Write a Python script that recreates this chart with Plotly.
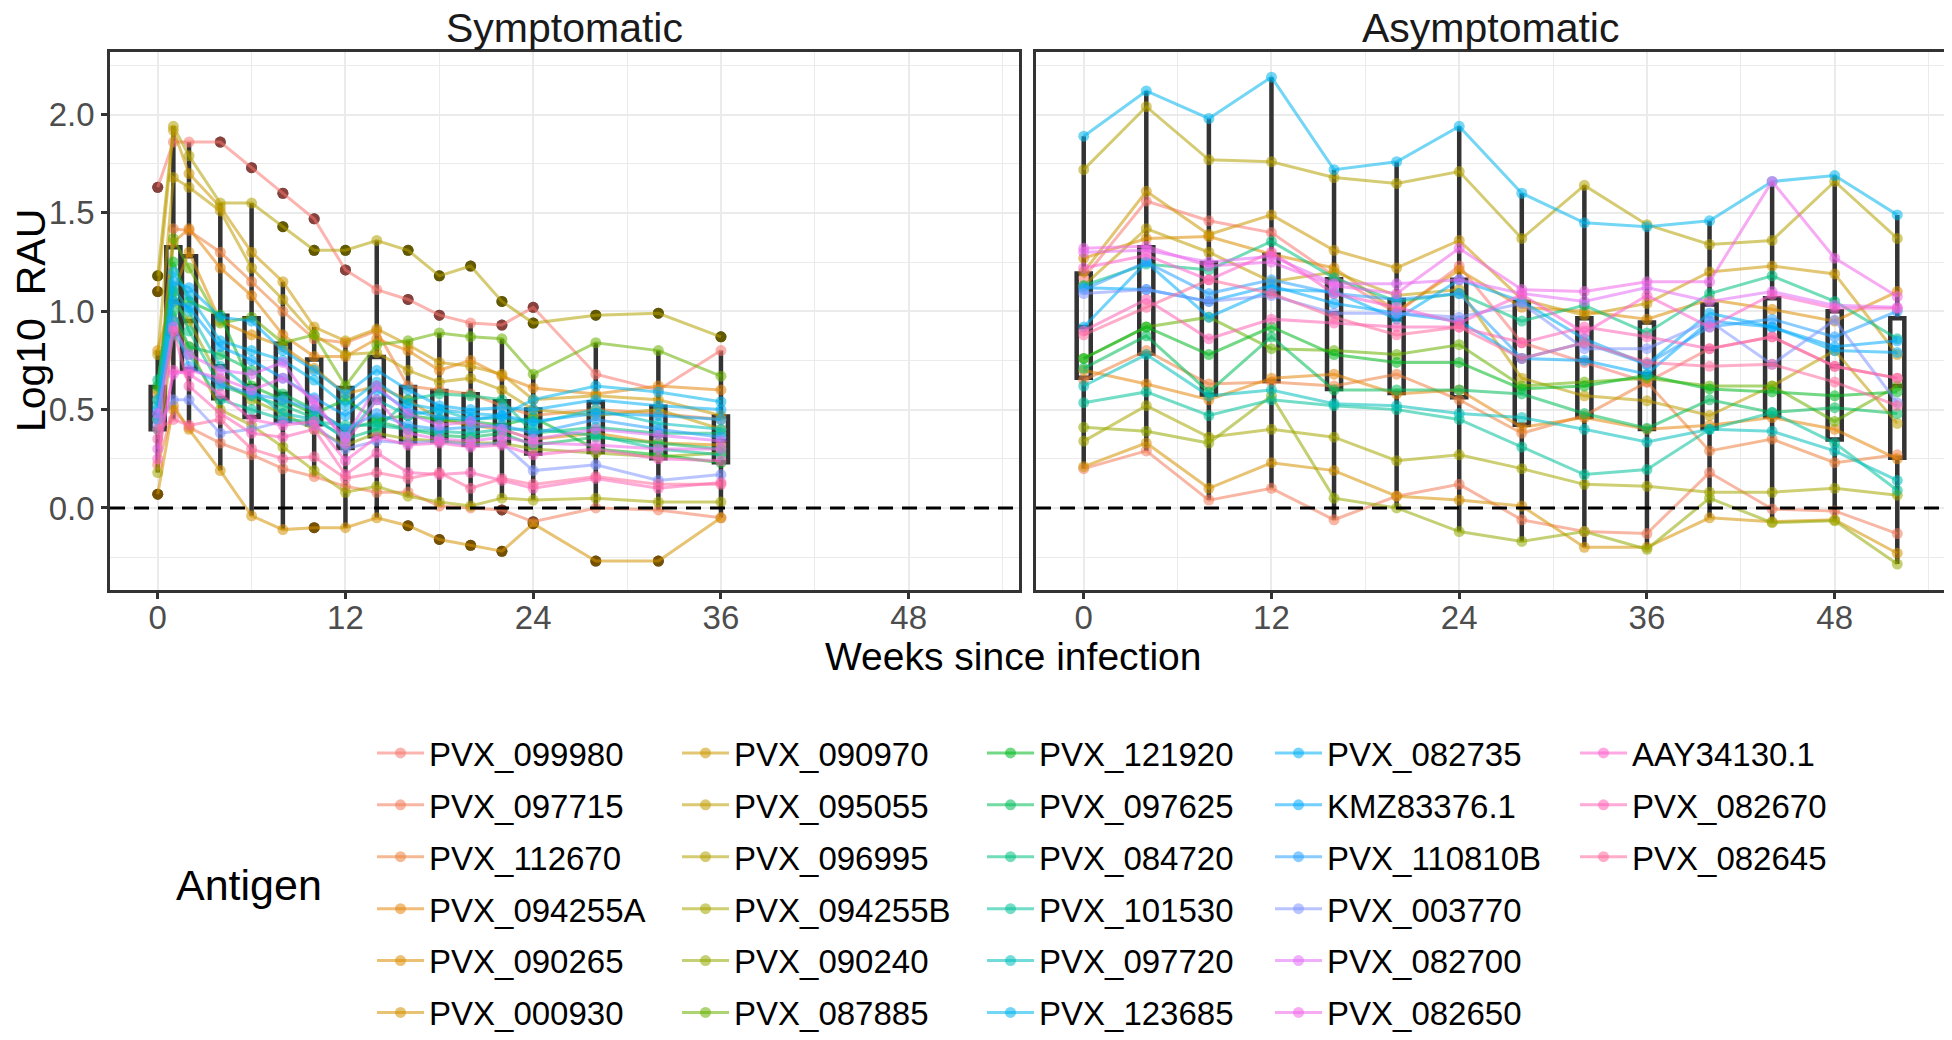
import numpy as np
import pandas as pd
import plotly.graph_objects as go
from plotly.subplots import make_subplots

#############################################################################################
# data (log10 RAU per antigen and visit)

antigens = ["PVX_099980", "PVX_097715", "PVX_112670", "PVX_094255A", "PVX_090265", "PVX_000930",
            "PVX_090970", "PVX_095055", "PVX_096995", "PVX_094255B", "PVX_090240", "PVX_087885",
            "PVX_121920", "PVX_097625", "PVX_084720", "PVX_101530", "PVX_097720", "PVX_123685",
            "PVX_082735", "KMZ83376.1", "PVX_110810B", "PVX_003770", "PVX_082700", "PVX_082650",
            "AAY34130.1", "PVX_082670", "PVX_082645"]

symp_weeks = [0, 1, 2, 4, 6, 8, 10, 12, 14, 16, 18, 20, 22, 24, 28, 32, 36]
asymp_weeks = [0, 4, 8, 12, 16, 20, 24, 28, 32, 36, 40, 44, 48, 52]

# one row per antigen, same order as `antigens`
symptomatic = [
  [1.63, 1.86, 1.86, 1.86, 1.73, 1.60, 1.47, 1.21, 1.11, 1.06, 0.98, 0.94, 0.93, 1.02, 0.68, 0.60, 0.80],
  [0.22, 0.50, 0.41, 0.33, 0.27, 0.20, 0.16, 0.11, 0.08, 0.08, 0.01, 0.00, -0.01, -0.07, 0.00, -0.01, -0.05],
  [0.58, 1.42, 1.41, 1.30, 1.15, 1.00, 0.86, 0.84, 0.90, 0.62, 0.60, 0.58, 0.52, 0.47, 0.50, 0.48, 0.45],
  [0.45, 1.35, 1.42, 1.22, 1.08, 0.88, 0.77, 0.77, 0.86, 0.80, 0.70, 0.75, 0.67, 0.61, 0.58, 0.62, 0.60],
  [0.80, 1.10, 1.30, 0.95, 0.88, 0.82, 0.71, 0.58, 0.62, 0.55, 0.45, 0.42, 0.40, 0.35, 0.38, 0.33, 0.32],
  [0.07, 0.52, 0.40, 0.19, -0.04, -0.11, -0.10, -0.10, -0.05, -0.09, -0.16, -0.19, -0.22, -0.08, -0.27, -0.27, -0.05],
  [1.10, 1.92, 1.70, 1.53, 1.30, 1.15, 0.92, 0.85, 0.91, 0.83, 0.74, 0.72, 0.68, 0.55, 0.57, 0.55, 0.47],
  [0.78, 1.68, 1.63, 1.51, 1.22, 1.06, 0.88, 0.78, 0.79, 0.70, 0.64, 0.66, 0.60, 0.50, 0.47, 0.50, 0.40],
  [1.18, 1.94, 1.79, 1.55, 1.55, 1.43, 1.31, 1.31, 1.36, 1.31, 1.18, 1.23, 1.05, 0.94, 0.98, 0.99, 0.87],
  [0.18, 0.95, 0.82, 0.50, 0.42, 0.31, 0.19, 0.08, 0.11, 0.06, 0.03, 0.01, 0.05, 0.04, 0.05, 0.03, 0.03],
  [0.60, 1.05, 0.95, 0.65, 0.55, 0.48, 0.40, 0.32, 0.38, 0.35, 0.34, 0.33, 0.33, 0.30, 0.28, 0.26, 0.28],
  [0.55, 1.37, 1.22, 0.94, 0.97, 0.84, 0.88, 0.62, 0.83, 0.85, 0.89, 0.87, 0.86, 0.68, 0.84, 0.80, 0.67],
  [0.62, 1.25, 1.05, 0.98, 0.62, 0.55, 0.48, 0.55, 0.45, 0.47, 0.45, 0.44, 0.42, 0.46, 0.30, 0.27, 0.23],
  [0.45, 1.00, 0.82, 0.78, 0.70, 0.58, 0.50, 0.40, 0.44, 0.40, 0.37, 0.36, 0.38, 0.32, 0.36, 0.33, 0.30],
  [0.65, 1.10, 0.90, 0.62, 0.57, 0.52, 0.46, 0.35, 0.40, 0.55, 0.58, 0.57, 0.55, 0.38, 0.41, 0.38, 0.38],
  [0.52, 0.88, 0.78, 0.55, 0.50, 0.45, 0.44, 0.42, 0.42, 0.40, 0.39, 0.38, 0.40, 0.40, 0.37, 0.30, 0.27],
  [0.40, 1.12, 1.00, 0.72, 0.60, 0.48, 0.45, 0.36, 0.55, 0.47, 0.50, 0.45, 0.46, 0.43, 0.50, 0.43, 0.40],
  [0.55, 1.20, 1.08, 0.85, 0.80, 0.75, 0.65, 0.52, 0.64, 0.53, 0.50, 0.48, 0.47, 0.55, 0.62, 0.59, 0.54],
  [0.50, 1.15, 1.12, 0.97, 0.95, 0.80, 0.70, 0.58, 0.70, 0.60, 0.52, 0.50, 0.51, 0.50, 0.55, 0.52, 0.50],
  [0.48, 1.05, 1.02, 0.82, 0.75, 0.66, 0.56, 0.47, 0.60, 0.50, 0.46, 0.45, 0.47, 0.44, 0.48, 0.47, 0.45],
  [0.45, 0.95, 0.72, 0.63, 0.58, 0.55, 0.50, 0.40, 0.48, 0.42, 0.40, 0.41, 0.42, 0.38, 0.45, 0.40, 0.36],
  [0.42, 0.55, 0.55, 0.38, 0.40, 0.44, 0.42, 0.30, 0.34, 0.33, 0.34, 0.32, 0.33, 0.19, 0.22, 0.14, 0.17],
  [0.48, 0.92, 0.78, 0.70, 0.68, 0.74, 0.52, 0.36, 0.62, 0.48, 0.42, 0.44, 0.40, 0.35, 0.40, 0.37, 0.34],
  [0.30, 0.68, 0.70, 0.66, 0.60, 0.66, 0.55, 0.33, 0.55, 0.38, 0.35, 0.34, 0.36, 0.33, 0.32, 0.30, 0.30],
  [0.25, 0.70, 0.68, 0.58, 0.45, 0.42, 0.44, 0.24, 0.36, 0.32, 0.33, 0.31, 0.32, 0.27, 0.30, 0.25, 0.24],
  [0.35, 0.90, 0.62, 0.48, 0.38, 0.36, 0.40, 0.17, 0.28, 0.18, 0.17, 0.18, 0.14, 0.10, 0.15, 0.10, 0.13],
  [0.40, 0.45, 0.42, 0.45, 0.30, 0.25, 0.26, 0.15, 0.18, 0.15, 0.18, 0.10, 0.15, 0.12, 0.16, 0.12, 0.12],
]

asymptomatic = [
  [1.17, 1.56, 1.46, 1.40, 1.18, 0.99, 1.23, 0.84, 0.74, 0.64, 0.81, 0.87, 0.72, 0.66],
  [0.20, 0.29, 0.04, 0.10, -0.06, 0.06, 0.12, -0.06, -0.12, -0.13, 0.18, -0.005, -0.015, -0.13],
  [0.65, 0.80, 0.63, 0.64, 0.62, 0.68, 0.55, 0.38, 0.47, 0.64, 0.29, 0.35, 0.23, 0.27],
  [0.70, 0.63, 0.55, 0.66, 0.68, 0.58, 0.60, 0.41, 0.46, 0.40, 0.42, 0.46, 0.40, 0.25],
  [1.27, 1.37, 1.38, 1.29, 1.22, 1.00, 1.21, 1.02, 1.00, 0.96, 1.06, 1.01, 0.95, 1.10],
  [0.21, 0.33, 0.10, 0.23, 0.19, 0.06, 0.04, 0.01, -0.20, -0.20, -0.05, -0.07, -0.06, -0.23],
  [1.20, 1.61, 1.39, 1.49, 1.31, 1.22, 1.36, 1.06, 0.98, 1.04, 1.20, 1.23, 1.19, 0.78],
  [1.13, 1.42, 1.30, 1.15, 1.20, 1.08, 1.11, 0.66, 0.57, 0.545, 0.47, 0.62, 0.80, 0.43],
  [1.72, 2.04, 1.77, 1.76, 1.68, 1.65, 1.71, 1.37, 1.64, 1.44, 1.34, 1.36, 1.66, 1.37],
  [0.34, 0.52, 0.36, 0.40, 0.36, 0.24, 0.27, 0.20, 0.12, 0.11, 0.08, 0.08, 0.10, 0.065],
  [0.41, 0.39, 0.33, 0.57, 0.05, 0.00, -0.12, -0.17, -0.12, -0.21, 0.05, -0.075, -0.065, -0.285],
  [0.76, 0.92, 0.97, 0.81, 0.80, 0.78, 0.83, 0.62, 0.64, 0.66, 0.62, 0.62, 0.44, 0.62],
  [0.76, 0.92, 0.78, 0.92, 0.78, 0.74, 0.74, 0.605, 0.62, 0.675, 0.605, 0.59, 0.57, 0.59],
  [0.71, 0.875, 0.59, 0.87, 0.60, 0.60, 0.60, 0.58, 0.48, 0.405, 0.55, 0.485, 0.51, 0.48],
  [1.13, 1.24, 1.21, 1.355, 1.17, 1.05, 1.09, 0.95, 1.03, 0.89, 1.09, 1.18, 1.05, 0.86],
  [0.535, 0.59, 0.47, 0.55, 0.52, 0.50, 0.45, 0.31, 0.17, 0.195, 0.40, 0.485, 0.33, 0.09],
  [0.62, 0.78, 0.57, 0.60, 0.53, 0.52, 0.48, 0.46, 0.40, 0.335, 0.40, 0.39, 0.29, 0.14],
  [1.89, 2.12, 1.98, 2.19, 1.72, 1.76, 1.94, 1.60, 1.45, 1.43, 1.46, 1.66, 1.69, 1.49],
  [0.92, 1.25, 0.97, 1.11, 1.10, 0.96, 1.16, 1.05, 0.86, 0.73, 0.99, 0.92, 0.80, 0.79],
  [1.12, 1.11, 1.05, 1.13, 1.04, 0.99, 0.95, 0.76, 0.75, 0.68, 0.95, 0.92, 0.82, 0.85],
  [1.11, 1.25, 1.09, 1.16, 1.09, 1.06, 1.09, 0.76, 0.84, 0.73, 0.92, 0.96, 0.87, 1.00],
  [1.09, 1.11, 1.05, 1.08, 0.99, 0.99, 0.97, 1.04, 0.81, 0.81, 0.95, 0.73, 0.955, 0.535],
  [1.30, 1.31, 1.25, 1.28, 1.14, 1.14, 1.16, 1.09, 1.05, 1.12, 1.05, 1.10, 1.03, 1.02],
  [1.32, 1.33, 1.23, 1.25, 1.13, 1.09, 1.32, 1.11, 1.10, 1.15, 1.15, 1.66, 1.27, 1.075],
  [1.22, 1.285, 1.16, 1.30, 1.09, 1.02, 0.94, 1.085, 0.89, 1.08, 0.92, 1.085, 1.015, 1.015],
  [0.90, 1.06, 0.86, 0.96, 0.94, 0.92, 0.92, 0.84, 0.92, 0.87, 0.81, 0.87, 0.72, 0.66],
  [0.88, 1.02, 1.16, 1.09, 0.97, 0.88, 0.92, 0.76, 0.84, 0.74, 0.72, 0.73, 0.64, 0.52],
]

#############################################################################################

FONT = "Liberation Sans, Arial, Helvetica, sans-serif"

# hcl hue of each antigen's colour (chroma 100, luminance 65, as ggplot2 uses)
hues = [15, 22, 30, 38, 46, 54, 62, 70, 78, 86, 95, 112,
        130, 145, 160, 172, 190, 222, 232, 240, 248, 262, 300, 310,
        330, 342, 355]


def hcl_rgb(h, c=100, l=65):
  xn, yn, zn = 95.047, 100.0, 108.883
  t = xn + 15 * yn + 3 * zn
  un, vn = 4 * xn / t, 9 * yn / t
  m = np.array([[3.240479, -1.537150, -0.498535],
                [-0.969256, 1.875992, 0.041556],
                [0.055648, -0.204043, 1.057311]])
  u, v = c * np.cos(np.radians(h)), c * np.sin(np.radians(h))
  y = yn * ((l + 16) / 116) ** 3
  up, vp = u / (13 * l) + un, v / (13 * l) + vn
  x = 9 * y * up / (4 * vp)
  z = -x / 3 - 5 * y + 3 * y / vp
  rgb = m @ np.array([x, y, z]) / 100
  rgb = np.where(rgb <= 0.0031308, 12.92 * rgb, 1.055 * np.abs(rgb) ** (1 / 2.4) - 0.055)
  return tuple(int(round(255 * k)) for k in np.clip(rgb, 0, 1))


colors = [hcl_rgb(h) for h in hues]

rows = []
for panel, weeks, values in [("Symptomatic", symp_weeks, symptomatic),
                             ("Asymptomatic", asymp_weeks, asymptomatic)]:
  for ant, vals in zip(antigens, values):
    for w, v in zip(weeks, vals):
      rows.append(dict(panel=panel, antigen=ant, week=w, value=v))
df = pd.DataFrame(rows)

panels = ["Symptomatic", "Asymptomatic"]

fig = make_subplots(rows=1, cols=2, shared_yaxes=True, horizontal_spacing=17 / 1835,
                    subplot_titles=panels)

# boxplots (plotly puts the box layer under the scatter layer)
for col, panel in enumerate(panels, 1):
  d = df[df.panel == panel]
  fig.add_trace(go.Box(x=d.week, y=d.value, width=0.9, fillcolor="rgba(0,0,0,0)",
                       line=dict(color="#333333", width=4.5), whiskerwidth=0,
                       boxpoints="outliers", pointpos=0, jitter=0,
                       marker=dict(color="black", size=11, line=dict(width=0)),
                       showlegend=False, hoverinfo="skip"), row=1, col=col)

for i, ant in enumerate(antigens):
  r, g, b = colors[i]
  rgba = "rgba(%d,%d,%d,0.55)" % (r, g, b)
  leg = "legend" if i < 6 else "legend%d" % (i // 6 + 1)
  for col, panel in enumerate(panels, 1):
    d = df[(df.panel == panel) & (df.antigen == ant)]
    fig.add_trace(go.Scatter(x=d.week, y=d.value, mode="lines+markers", name=ant,
                             legendgroup=ant, legend=leg, showlegend=(col == 1),
                             line=dict(color=rgba, width=3),
                             marker=dict(color=rgba, size=11)), row=1, col=col)

fig.add_hline(y=0, line=dict(color="black", width=3, dash="15px,9px"), row=1, col="all")

xax = dict(range=[-3.05, 55.05], tickmode="array", tickvals=[0, 12, 24, 36, 48],
           ticks="outside", ticklen=6, tickwidth=2.5, tickcolor="#333333", ticklabelstandoff=-9,
           tickfont=dict(size=33, color="#4D4D4D", family=FONT),
           showgrid=True, gridcolor="#EBEBEB", gridwidth=2.2,
           minor=dict(tickvals=[6, 18, 30, 42, 54], showgrid=True, gridcolor="#EBEBEB", gridwidth=1.1),
           showline=True, mirror=True, linecolor="#333333", linewidth=2.5, zeroline=False)
yax = dict(range=[-0.417, 2.318], tickmode="array", tickvals=[0, 0.5, 1, 1.5, 2], tickformat=".1f",
           ticks="outside", ticklen=6, tickwidth=2.5, tickcolor="#333333",
           tickfont=dict(size=33, color="#4D4D4D", family=FONT),
           showgrid=True, gridcolor="#EBEBEB", gridwidth=2.2,
           minor=dict(tickvals=[-0.25, 0.25, 0.75, 1.25, 1.75, 2.25], showgrid=True,
                      gridcolor="#EBEBEB", gridwidth=1.1),
           showline=True, mirror=True, linecolor="#333333", linewidth=2.5, zeroline=False)
fig.update_xaxes(**xax)
fig.update_yaxes(**yax)
fig.update_yaxes(showticklabels=False, ticks="", row=1, col=2)

for a in fig.layout.annotations:
  a.update(font=dict(size=41, color="#1A1A1A", family=FONT), y=1.044, yanchor="middle")

fig.add_annotation(text="Weeks since infection", x=0.492, y=-0.1227, xref="paper", yref="paper",
                   showarrow=False, font=dict(size=39, color="black", family=FONT),
                   xanchor="center", yanchor="middle")
fig.add_annotation(text="Log10\u00a0 RAU", x=-0.043, y=0.5, xref="paper", yref="paper",
                   showarrow=False, textangle=-90, font=dict(size=41, color="black", family=FONT),
                   xanchor="center", yanchor="middle")
fig.add_annotation(text="Antigen", x=0.0757, y=-0.548, xref="paper", yref="paper",
                   showarrow=False, font=dict(size=43, color="black", family=FONT),
                   xanchor="center", yanchor="middle")

# one legend per column so the entries run down the columns like the original
col_x = [377, 682, 987, 1275, 1580]
legends = {}
for k, px in enumerate(col_x):
  name = "legend" if k == 0 else "legend%d" % (k + 1)
  legends[name] = dict(x=(px - 115) / 1835, y=-0.2509, xanchor="left", yanchor="top",
                       orientation="v", tracegroupgap=6, itemwidth=47,
                       bgcolor="rgba(0,0,0,0)", font=dict(size=33, color="black", family=FONT))

# the page body adds an 8px margin, so the figure is 8px smaller than the window
fig.update_layout(width=1944, height=1032,
                  margin=dict(l=102, r=7, t=44, b=450, autoexpand=False),
                  plot_bgcolor="white", paper_bgcolor="white",
                  font=dict(family=FONT), **legends)

fig.write_html("out.html")
